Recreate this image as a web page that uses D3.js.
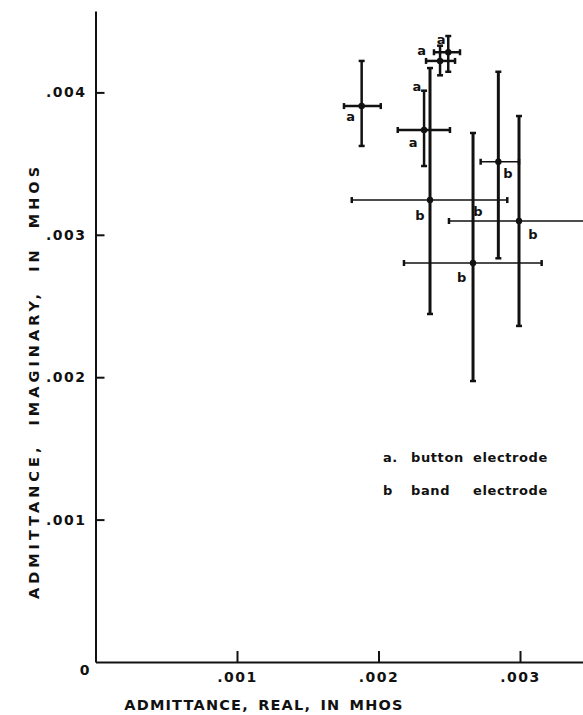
<!DOCTYPE html>
<html>
<head>
<meta charset="utf-8">
<script src="https://cdn.jsdelivr.net/npm/d3@7"></script>
<style>
  body { margin: 0; background: #fff; }
  text { font-family: "DejaVu Sans", sans-serif; font-weight: bold; fill: #111; }
</style>
</head>
<body>
<div id="chart-area"></div>
<script>
var electrode = ["a", "a", "a", "a", "b", "b", "b", "b"];
var realVal   = [0.001881, 0.002493, 0.002435, 0.002322, 0.002847, 0.002364, 0.002993, 0.002668];
var realLow   = [0.001756, 0.002392, 0.002336, 0.002136, 0.002722, 0.001811, 0.002498, 0.002180];
var realHigh  = [0.002016, 0.002576, 0.002541, 0.002505, 0.002993, 0.002910, 0.003488, 0.003153];
var imagVal   = [0.003904, 0.004282, 0.004221, 0.003736, 0.003513, 0.003244, 0.003097, 0.002802];
var imagLow   = [0.003624, 0.004145, 0.004120, 0.003483, 0.002835, 0.002444, 0.002360, 0.001973];
var imagHigh  = [0.004221, 0.004396, 0.004328, 0.004012, 0.004145, 0.004171, 0.003834, 0.003715];

// Letter annotations placed in data units
var noteText = ["a", "a", "a", "a", "a", "b", "b", "b", "b", "b"];
var noteX    = [0.001803, 0.002442, 0.002305, 0.002272, 0.002244, 0.002915, 0.002293, 0.002703, 0.003092, 0.002588];
var noteY    = [0.003834, 0.004375, 0.004298, 0.004045, 0.003652, 0.003434, 0.003139, 0.003167, 0.002999, 0.002697];

var xTicks = [0.001, 0.002, 0.003];
var yTicks = [0.001, 0.002, 0.003, 0.004];
var legendLabels = [["a.", "button", "electrode"], ["b", "band", "electrode"]];

var margin = { left: 95.5, right: 0, top: 11, bottom: 53 },
    width = 583 - margin.left - margin.right,
    height = 715 - margin.top - margin.bottom;

var svg = d3.select("#chart-area").append("svg")
    .attr("width", 583)
    .attr("height", 715);

var g = svg.append("g")
    .attr("transform", "translate(" + margin.left + "," + margin.top + ")");

// Scales
var x_scale = d3.scaleLinear().domain([0, width / 141.5 * 0.001]).range([0, width]);
var y_scale = d3.scaleLinear().domain([0, height / 142.4 * 0.001]).range([height, 0]);

var fmt = function(d) { return d3.format(".3f")(d).replace(/^0/, ""); };

// Axes
var xAxis = g.append("g")
    .attr("transform", "translate(0," + height + ")")
    .call(d3.axisBottom(x_scale).tickValues(xTicks).tickSize(-11).tickSizeOuter(0)
        .tickPadding(10).tickFormat(fmt));
var yAxis = g.append("g")
    .call(d3.axisLeft(y_scale).tickValues(yTicks).tickSize(-9).tickSizeOuter(0)
        .tickPadding(9).tickFormat(fmt));

[xAxis, yAxis].forEach(function(ax) {
    ax.select(".domain").attr("stroke", "#111").attr("stroke-width", 2);
    ax.selectAll(".tick line").attr("stroke", "#111").attr("stroke-width", 2);
    ax.selectAll(".tick text")
        .attr("font-size", "14px")
        .attr("font-family", "DejaVu Sans, sans-serif")
        .attr("font-weight", "bold")
        .attr("letter-spacing", "1.5px")
        .attr("fill", "#111");
});

g.append("text")
    .attr("x", -11)
    .attr("y", height + 13)
    .attr("font-size", "14px")
    .attr("text-anchor", "middle")
    .text("0");

// Axis labels
svg.append("text")
    .attr("x", 264)
    .attr("y", 710)
    .attr("font-size", "14.5px")
    .attr("text-anchor", "middle")
    .attr("letter-spacing", "1.2px")
    .attr("word-spacing", "3px")
    .text("ADMITTANCE, REAL, IN MHOS");

svg.append("text")
    .attr("transform", "translate(39,381) rotate(-90)")
    .attr("font-size", "14.5px")
    .attr("text-anchor", "middle")
    .attr("letter-spacing", "4px")
    .attr("word-spacing", "9px")
    .text("ADMITTANCE, IMAGINARY, IN MHOS");

// Error bars
var pts = d3.range(electrode.length);

var bars = g.selectAll(".bar").data(pts).enter().append("g").attr("class", "bar");

bars.append("line")
    .attr("x1", function(i) { return x_scale(realVal[i]); })
    .attr("x2", function(i) { return x_scale(realVal[i]); })
    .attr("y1", function(i) { return y_scale(imagLow[i]); })
    .attr("y2", function(i) { return y_scale(imagHigh[i]); })
    .attr("stroke", "#111")
    .attr("stroke-width", function(i) { return electrode[i] === "b" ? 3 : 2.5; });

bars.append("line")
    .attr("x1", function(i) { return x_scale(realLow[i]); })
    .attr("x2", function(i) { return x_scale(realHigh[i]); })
    .attr("y1", function(i) { return y_scale(imagVal[i]); })
    .attr("y2", function(i) { return y_scale(imagVal[i]); })
    .attr("stroke", "#111")
    .attr("stroke-width", function(i) { return electrode[i] === "b" ? 1.6 : 2.5; });

// end caps
bars.each(function(i) {
    var b = d3.select(this),
        cx = x_scale(realVal[i]), cy = y_scale(imagVal[i]);
    [imagLow[i], imagHigh[i]].forEach(function(v) {
        b.append("line")
            .attr("x1", cx - 3).attr("x2", cx + 3)
            .attr("y1", y_scale(v)).attr("y2", y_scale(v))
            .attr("stroke", "#111").attr("stroke-width", 2.5);
    });
    [realLow[i], realHigh[i]].forEach(function(v) {
        b.append("line")
            .attr("x1", x_scale(v)).attr("x2", x_scale(v))
            .attr("y1", cy - 3).attr("y2", cy + 3)
            .attr("stroke", "#111").attr("stroke-width", 2.5);
    });
});

bars.append("circle")
    .attr("cx", function(i) { return x_scale(realVal[i]); })
    .attr("cy", function(i) { return y_scale(imagVal[i]); })
    .attr("r", 3.2)
    .attr("fill", "#111");

// Letter annotations
g.selectAll(".note").data(d3.range(noteText.length)).enter().append("text")
    .attr("class", "note")
    .attr("x", function(i) { return x_scale(noteX[i]); })
    .attr("y", function(i) { return y_scale(noteY[i]); })
    .attr("dy", "0.35em")
    .attr("font-size", "13px")
    .attr("text-anchor", "middle")
    .text(function(i) { return noteText[i]; });

// Legend
var legend = svg.append("g");
legendLabels.forEach(function(row, r) {
    var ly = 462 + r * 33;
    [383, 411, 473].forEach(function(lx, c) {
        legend.append("text")
            .attr("x", lx)
            .attr("y", ly)
            .attr("font-size", "13px")
            .attr("letter-spacing", "0.6px")
            .text(row[c]);
    });
});
</script>
</body>
</html>
